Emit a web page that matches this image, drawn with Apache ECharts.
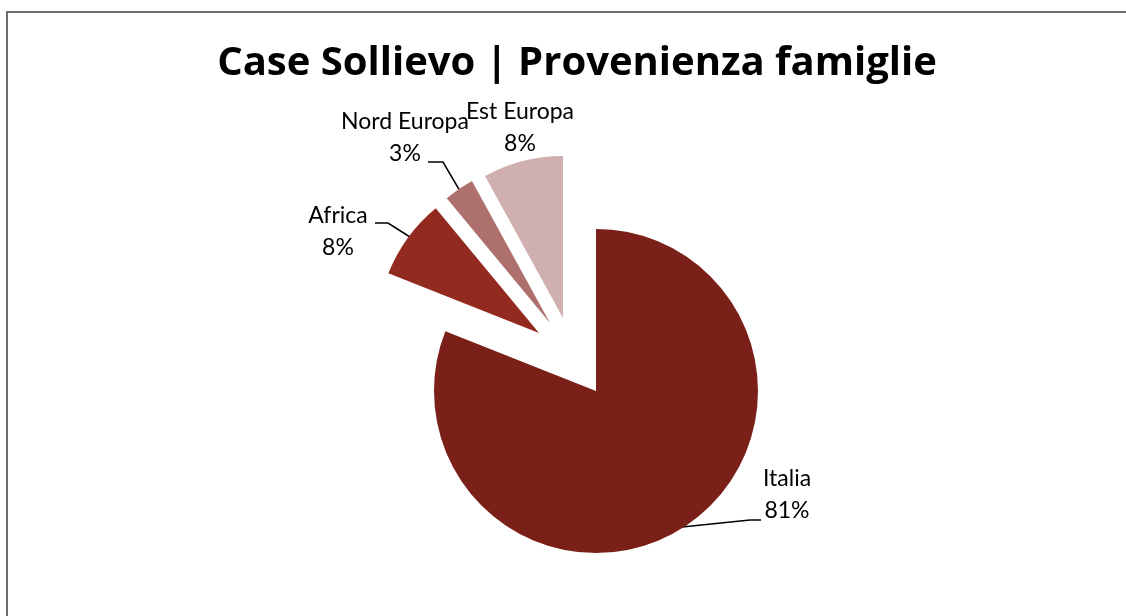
<!DOCTYPE html>
<html>
<head>
<meta charset="utf-8">
<title>Case Sollievo | Provenienza famiglie</title>
<script src="https://cdn.jsdelivr.net/npm/echarts@6.0.0/dist/echarts.min.js"></script>
<style>
  html, body { margin: 0; padding: 0; background: #fff; }
  #main { width: 1126px; height: 616px; }
</style>
</head>
<body>
<div id="main"></div>
<script>
// dati del grafico (percentuali)
const categories = ['Italia', 'Africa', 'Nord Europa', 'Est Europa'];
const values = [81, 8, 3, 8];
const colors = ['#7a2019', '#922a1f', '#ad706d', '#cfafaf'];

// spostamento delle fette "esplose" (px) e posizione delle etichette
const explode = [[0, 0], [-57, -58], [-46, -68], [-33, -73]];
const labelPos = [[787, 495], [338, 232], [405, 138], [520, 128]];
const leaders = [
  [[682, 527], [750, 520], [761, 520]],
  [[410, 237], [388, 223], [375, 223]],
  [[460, 191], [443, 162], [428, 162]],
  null
];

const cx = 596, cy = 391, r = 162;
const font = 'Lato, "Open Sans", sans-serif';

let myChart = echarts.init(document.getElementById('main'));

// una serie per ogni fetta, cosi' ognuna ha il suo centro spostato
let series = categories.map(function (name, k) {
  return {
    name: name,
    type: 'pie',
    center: [cx + explode[k][0], cy + explode[k][1]],
    radius: r,
    startAngle: 90,
    clockwise: true,
    silent: true,
    avoidLabelOverlap: false,
    minShowLabelAngle: 0,
    itemStyle: { borderWidth: 0 },
    emphasis: { disabled: true },
    label: {
      formatter: function (p) { return p.name + '\n' + p.value + '%'; },
      fontFamily: font,
      fontSize: 23,
      lineHeight: 32,
      color: '#000',
      align: 'center'
    },
    labelLine: { lineStyle: { color: '#000', width: 1.5 } },
    labelLayout: function (p) {
      let i = p.dataIndex;
      let out = {
        x: labelPos[i][0],
        y: labelPos[i][1],
        align: 'center',
        verticalAlign: 'middle'
      };
      if (leaders[i]) out.labelLinePoints = leaders[i];
      return out;
    },
    data: categories.map(function (c, i) {
      return {
        name: c,
        value: values[i],
        itemStyle: { color: i === k ? colors[i] : 'rgba(0,0,0,0)' },
        label: { show: i === k },
        labelLine: { show: i === k && leaders[i] !== null }
      };
    })
  };
});

myChart.setOption({
  animation: false,
  title: {
    text: 'Case Sollievo | Provenienza famiglie',
    left: 572,
    top: 39,
    textAlign: 'center',
    textStyle: { fontFamily: '"Open Sans", sans-serif', fontSize: 40, fontWeight: 'bold', color: '#000' }
  },
  graphic: [{
    type: 'rect',
    shape: { x: 7, y: 12, width: 1200, height: 700 },
    style: { fill: 'none', stroke: '#6e6e6e', lineWidth: 2 },
    silent: true
  }],
  series: series
});
</script>
</body>
</html>
